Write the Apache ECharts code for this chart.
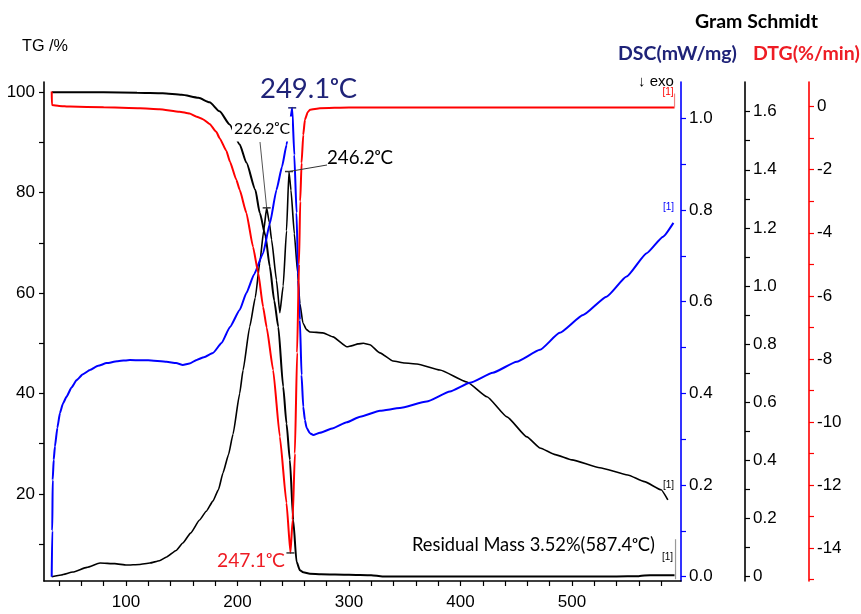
<!DOCTYPE html>
<html><head><meta charset="utf-8">
<script src="https://cdn.jsdelivr.net/npm/echarts@6/dist/echarts.min.js"></script>
<style>html,body{margin:0;padding:0;background:#fff}#c{width:861px;height:614px}</style>
</head><body><div id="c"></div><script>
// ---------- data ----------
const tgTemp = [33.5,50,80,110,133,150,165,175,184,193,202,208,216,220,225,229,233,236.6,241,244,247,250,253,256,259,265,275,300,320,330,350,400,450,500,540,560,565,575,592];
const tgMass = [100,100,100,99.9,99.8,99.5,98.9,98,96.2,93.6,89.6,86,80.6,76,71.5,65.3,58.5,53.3,41.4,34,26.8,14.8,6.5,4.8,4.4,4.1,4.0,3.9,3.8,3.55,3.55,3.55,3.55,3.55,3.55,3.6,3.75,3.8,3.8];

const gsTemp = [33.4,42,52.5,65,76.7,90,100.6,112,121.5,130,136.5,145,151,158,166,172,178,183,187,192,196,202,205,211,216,220,223.5,226.2,228.5,230.6,235,238,241,244,246.2,248,251,254,256,258.7,262,265,276.7,285.7,298.2,303,308,313,318.8,327.8,339.5,350,361,381.6,405.8,423.8,441.7,459.6,471.3,485,500,525,550,565,580,586];
const gsVal  = [0,0.006,0.016,0.032,0.047,0.045,0.040,0.042,0.047,0.055,0.068,0.09,0.116,0.15,0.195,0.225,0.26,0.30,0.357,0.42,0.49,0.63,0.71,0.86,0.96,1.08,1.19,1.269,1.22,1.16,1.02,0.908,1.0,1.19,1.394,1.33,1.18,1.045,0.94,0.873,0.85,0.842,0.839,0.825,0.791,0.795,0.801,0.803,0.798,0.770,0.742,0.735,0.732,0.711,0.670,0.619,0.550,0.481,0.443,0.42,0.402,0.375,0.350,0.327,0.299,0.264];

const dscTemp = [33.4,33.9,34.3,35.2,36.3,38.5,40.8,43.5,46.8,51,55.8,61,67.7,75,82.7,92,103.6,120,136.5,145,151,157,163.4,170,178,185.8,193.3,202,208,215,223,229,235,240,244,247,249.1,251,253,254.5,256,257.5,259,260.5,262,265,268,274,285.7,298,310,327.8,345.7,369.7,390.6,408.5,429,450.4,471.3,489,510,531,549,567,581.7,591];
const dscVal  = [0,0.1,0.211,0.255,0.284,0.325,0.357,0.378,0.393,0.412,0.429,0.441,0.451,0.46,0.466,0.47,0.473,0.472,0.469,0.466,0.462,0.465,0.473,0.479,0.488,0.51,0.545,0.582,0.619,0.66,0.706,0.77,0.844,0.895,0.942,0.99,1.023,0.92,0.794,0.647,0.56,0.44,0.371,0.342,0.325,0.313,0.309,0.314,0.324,0.337,0.349,0.362,0.368,0.382,0.404,0.423,0.445,0.469,0.495,0.532,0.571,0.611,0.655,0.706,0.742,0.772];

const dtgTemp = [33.4,33.6,40,49.8,80,112.6,130,148,157,163.4,169,175,181,184,190,193.3,199,202,208,214,218.6,223,226.2,232,238,244,247.5,249.5,251.5,253.5,255.2,256.3,257.5,259,260.5,263,265,274,300,400,500,592];
const dtgVal  = [0.48,0.05,0.02,0,-0.02,-0.05,-0.08,-0.16,-0.22,-0.32,-0.4,-0.55,-0.8,-1.0,-1.4,-1.75,-2.32,-2.64,-3.37,-4.45,-5.27,-6.35,-7.0,-8.35,-10.46,-12.57,-14.15,-13.1,-11,-7.8,-5,-3.0,-1.79,-0.9,-0.42,-0.18,-0.1,-0.05,-0.03,-0.03,-0.03,-0.03];

// tick labels
const xTickLabels   = [100,200,300,400,500];
const tgTickLabels  = [20,40,60,80,100];
const dscTickLabels = [0,0.2,0.4,0.6,0.8,1.0];
const gsTickLabels  = [0,0.2,0.4,0.6,0.8,1.0,1.2,1.4,1.6];
const dtgTickLabels = [0,-2,-4,-6,-8,-10,-12,-14];

// peaks (temperature, value)
const gsPeak1 = [226.2, 1.269];
const gsPeak2 = [246.2, 1.394];
const dscPeak = [249.1, 1.023];
const dtgPeak = [247.5, -14.15];

// ---------- helpers ----------
const pair = (xs, ys) => xs.map((x, i) => [x, ys[i]]);
const range = (a, b, s) => { const r = []; for (let v = a; v <= b + 1e-9; v += s) r.push(+v.toFixed(4)); return r; };
const mctx = document.createElement('canvas').getContext('2d');
function fit(text, weight, family, w) { mctx.font = weight + ' 100px ' + family; return 100 * w / mctx.measureText(text).width; }

const LAB = '"Liberation Sans", Arial, sans-serif';
const CAL = 'Lato, "Noto Sans", "DejaVu Sans", sans-serif';

function yAx(o) {
  return {
    type: 'value', position: o.pos, offset: o.offset || 0, min: o.min, max: o.max,
    axisLine: { show: true, onZero: false, lineStyle: { color: o.color, width: 1.6 } },
    axisTick: { show: true, length: 5, customValues: o.ticks, lineStyle: { color: o.color, width: 1.2 } },
    axisLabel: { customValues: o.labels, color: '#000', fontFamily: LAB, fontSize: 17, margin: o.margin || 8, formatter: o.fmt },
    splitLine: { show: false }
  };
}

const chart = echarts.init(document.getElementById('c'));
const option = {
  animation: false,
  backgroundColor: '#fff',
  grid: { left: 44, right: 180, top: 82, bottom: 33, containLabel: false },
  xAxis: {
    type: 'value', min: 26.5, max: 597.8,
    axisLine: { show: true, onZero: false, lineStyle: { color: '#000', width: 1.6 } },
    axisTick: { show: true, length: 5, customValues: range(40, 580, 20), lineStyle: { color: '#000', width: 1.2 } },
    axisLabel: { customValues: xTickLabels, color: '#000', fontFamily: LAB, fontSize: 17, margin: 13 },
    splitLine: { show: false }
  },
  yAxis: [
    yAx({ pos: 'left', min: 2.65, max: 102.05, color: '#000', ticks: range(10, 100, 10), labels: tgTickLabels, margin: 9, fmt: v => String(v) }),
    yAx({ pos: 'right', min: -0.0094, max: 1.0794, color: '#0000ff', ticks: range(0, 1.0, 0.1), labels: dscTickLabels, fmt: v => v.toFixed(1) }),
    yAx({ pos: 'right', offset: 64, min: -0.0148, max: 1.702, color: '#000', ticks: range(0, 1.6, 0.1), labels: gsTickLabels, fmt: v => v === 0 ? '0' : v.toFixed(1) }),
    yAx({ pos: 'right', offset: 128, min: -15.04, max: 0.78, color: '#ff0000', ticks: range(-15, 0, 1), labels: dtgTickLabels, fmt: v => String(v) })
  ],
  series: [
    { name: 'TG', type: 'line', yAxisIndex: 0, data: pair(tgTemp, tgMass), showSymbol: false, smooth: 0.2, smoothMonotone: 'x', lineStyle: { color: '#000', width: 2 } },
    { name: 'Gram Schmidt', type: 'line', yAxisIndex: 2, data: pair(gsTemp, gsVal), showSymbol: false, smooth: 0.15, smoothMonotone: 'x', lineStyle: { color: '#000', width: 1.6 } },
    { name: 'DSC', type: 'line', yAxisIndex: 1, data: pair(dscTemp, dscVal), showSymbol: false, smooth: 0.15, smoothMonotone: 'x', lineStyle: { color: '#0000ff', width: 2 } },
    { name: 'DTG', type: 'line', yAxisIndex: 3, data: pair(dtgTemp, dtgVal), showSymbol: false, smooth: 0.15, smoothMonotone: 'x', lineStyle: { color: '#ff0000', width: 2 } }
  ]
};
chart.setOption(option);

// ---------- annotations ----------
const px = (ax, p) => chart.convertToPixel({ xAxisIndex: 0, yAxisIndex: ax }, p);
function txt(text, x, y, w, color, weight, family) {
  const size = fit(text, weight, family, w);
  return { type: 'text', z: 100, style: { text, x, y, fill: color, fontSize: size, fontWeight: weight, fontFamily: family, align: 'left', verticalAlign: 'middle' } };
}
function txtSize(text, x, y, size, color, weight, family) {
  return { type: 'text', z: 100, style: { text, x, y, fill: color, fontSize: size, fontWeight: weight, fontFamily: family, align: 'left', verticalAlign: 'middle' } };
}
function line(a, b, color, w) {
  return { type: 'line', z: 90, shape: { x1: a[0], y1: a[1], x2: b[0], y2: b[1] }, style: { stroke: color, lineWidth: w } };
}
function bar(p, color) { return line([p[0] - 4, p[1]], [p[0] + 4, p[1]], color, 1.5); }

const p1 = px(2, gsPeak1), p2 = px(2, gsPeak2), pd = px(1, dscPeak), pr = px(3, dtgPeak);
const redEnd = px(3, [dtgTemp[dtgTemp.length - 1], dtgVal[dtgVal.length - 1]]);
const tgEnd = px(0, [tgTemp[tgTemp.length - 1], tgMass[tgMass.length - 1]]);
const navy = '#1f2378';
const dtgSize = fit('DSC(mW/mg)', 'bold', CAL, 119);

chart.setOption({
  graphic: [
    txt('TG /%', 22, 47, 46, '#000', 'normal', LAB),
    txt('Gram Schmidt', 695, 22, 123, '#000', 'bold', CAL),
    txt('DSC(mW/mg)', 618, 54, 119, navy, 'bold', CAL),
    txtSize('DTG(%/min)', 753, 54, dtgSize, '#ee1c24', 'bold', CAL),
    txtSize('↓ exo', 638, 82, 15, '#000', 'normal', LAB),
    txt('249.1ᵒC', 260, 89, 97, navy, 'normal', CAL),
    { type: 'text', z: 99, style: { text: '226.2ᵒC', x: 232, y: 129, fill: '#000', fontSize: fit('226.2ᵒC', 'normal', CAL, 56), fontFamily: CAL, align: 'left', verticalAlign: 'middle', backgroundColor: '#fff', padding: [3, 2, 6, 2] } },
    txt('246.2ᵒC', 327, 158, 66, '#000', 'normal', CAL),
    txt('247.1ᵒC', 217, 561, 68, '#ee1c24', 'normal', CAL),
    txt('Residual Mass 3.52%(587.4ᵒC)', 412, 545, 243, '#000', 'normal', CAL),
    line([260, 142], p1, '#555', 1),
    bar(p1, '#333'),
    line([327, 165], p2, '#333', 1),
    bar(p2, '#333'),
    bar(pd, navy),
    bar(pr, '#333'),
    line([redEnd[0], redEnd[1]], [redEnd[0], redEnd[1] - 14], '#f08080', 1.2),
    txtSize('[1]', redEnd[0] - 12, redEnd[1] - 15, 10, '#ff0000', 'normal', LAB),
    txtSize('[1]', 663, 207, 10, '#0000ff', 'normal', LAB),
    txtSize('[1]', 663, 485, 10, '#000', 'normal', LAB),
    line([tgEnd[0] + 1, tgEnd[1] + 4], [tgEnd[0] + 1, tgEnd[1] - 36], '#999', 1.2),
    txtSize('[1]', 662, 557, 10, '#000', 'normal', LAB)
  ]
});
</script></body></html>
